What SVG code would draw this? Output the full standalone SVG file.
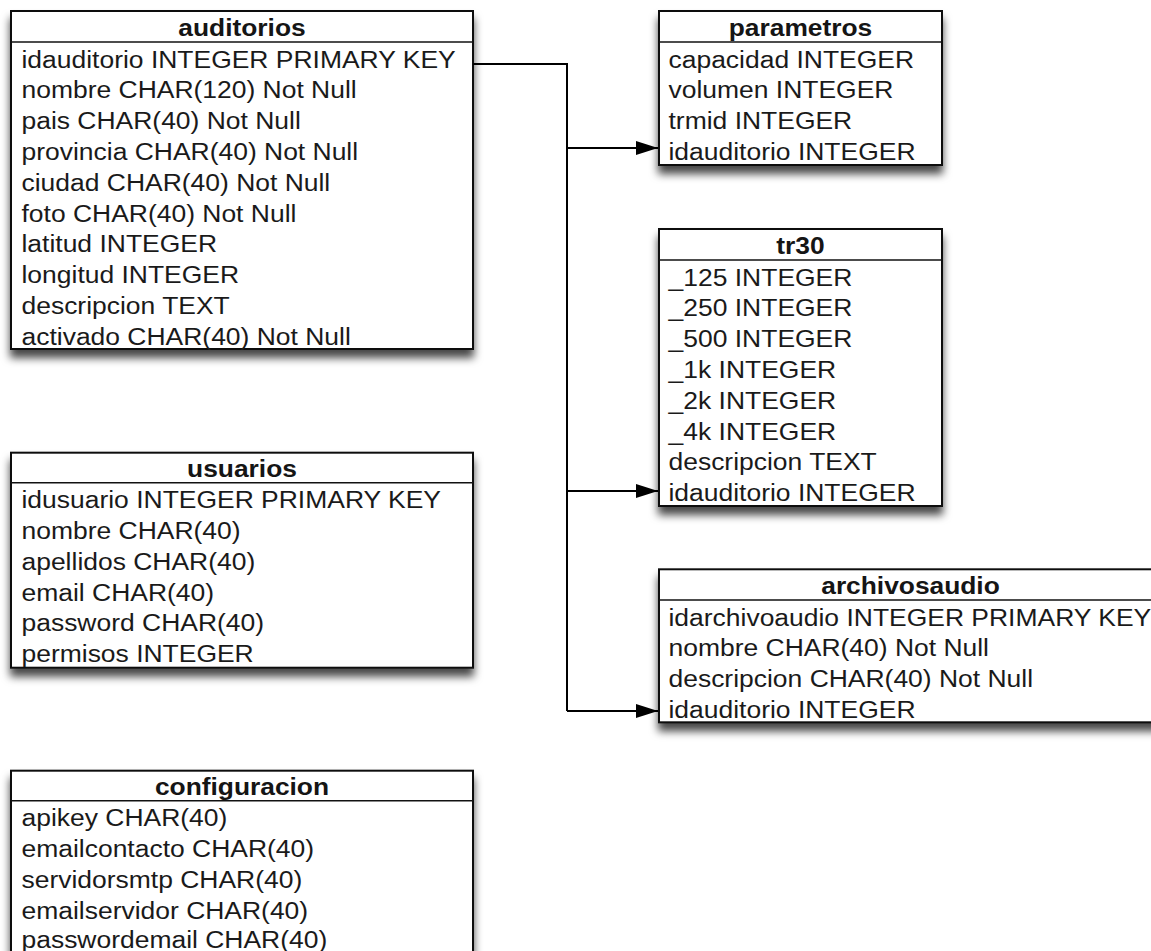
<svg xmlns="http://www.w3.org/2000/svg" width="1151" height="951" viewBox="0 0 1151 951">
  <defs>
    <filter id="shadow" x="-10%" y="-10%" width="120%" height="135%">
      <feDropShadow dx="0" dy="8" stdDeviation="4.5" flood-color="#000" flood-opacity="0.72"/>
    </filter>
    <marker id="arrow" viewBox="0 0 22 14" refX="22" refY="7" markerWidth="22" markerHeight="14" markerUnits="userSpaceOnUse" orient="auto">
      <path d="M0,0 L22,7 L0,14 Z" fill="#000"/>
    </marker>
    <style>
      .box { fill: #fff; stroke: #111; stroke-width: 2; }
      .sep { stroke: #111; stroke-width: 1.6; }
      .title { font-family: "Liberation Sans", Arial, sans-serif; font-size: 24.4px; font-weight: bold; fill: #151515; text-anchor: middle;
               transform-box: fill-box; transform-origin: center; transform: scaleX(1.08); }
      .row { font-family: "Liberation Sans", Arial, sans-serif; font-size: 24.4px; fill: #1a1a1a;
             transform-box: fill-box; transform-origin: left center; transform: scaleX(1.085); }
      .link { fill: none; stroke: #000; stroke-width: 2; }
    </style>
  </defs>
  <rect width="1151" height="951" fill="#fff"/>

  <!-- auditorios -->
  <g id="auditorios">
    <rect class="box" x="11" y="11" width="462" height="338" filter="url(#shadow)"/>
    <line class="sep" x1="11" y1="42" x2="473" y2="42"/>
    <text class="title" x="242" y="36">auditorios</text>
    <text class="row" x="21.5" y="67.7">idauditorio INTEGER PRIMARY KEY</text>
    <text class="row" x="21.5" y="98.5">nombre CHAR(120) Not Null</text>
    <text class="row" x="21.5" y="129.3">pais CHAR(40) Not Null</text>
    <text class="row" x="21.5" y="160.1">provincia CHAR(40) Not Null</text>
    <text class="row" x="21.5" y="190.9">ciudad CHAR(40) Not Null</text>
    <text class="row" x="21.5" y="221.7">foto CHAR(40) Not Null</text>
    <text class="row" x="21.5" y="252.5">latitud INTEGER</text>
    <text class="row" x="21.5" y="283.3">longitud INTEGER</text>
    <text class="row" x="21.5" y="314.1">descripcion TEXT</text>
    <text class="row" x="21.5" y="344.9">activado CHAR(40) Not Null</text>
  </g>

  <!-- usuarios -->
  <g id="usuarios">
    <rect class="box" x="11" y="452.7" width="462" height="215" filter="url(#shadow)"/>
    <line class="sep" x1="11" y1="482.7" x2="473" y2="482.7"/>
    <text class="title" x="242" y="477.5">usuarios</text>
    <text class="row" x="21.5" y="508.3">idusuario INTEGER PRIMARY KEY</text>
    <text class="row" x="21.5" y="539.1">nombre CHAR(40)</text>
    <text class="row" x="21.5" y="569.9">apellidos CHAR(40)</text>
    <text class="row" x="21.5" y="600.7">email CHAR(40)</text>
    <text class="row" x="21.5" y="631.5">password CHAR(40)</text>
    <text class="row" x="21.5" y="662.3">permisos INTEGER</text>
  </g>

  <!-- configuracion -->
  <g id="configuracion">
    <rect class="box" x="11" y="770.7" width="462" height="200" filter="url(#shadow)"/>
    <line class="sep" x1="11" y1="800.7" x2="473" y2="800.7"/>
    <text class="title" x="242" y="795.5">configuracion</text>
    <text class="row" x="21.5" y="826.3">apikey CHAR(40)</text>
    <text class="row" x="21.5" y="857.1">emailcontacto CHAR(40)</text>
    <text class="row" x="21.5" y="887.9">servidorsmtp CHAR(40)</text>
    <text class="row" x="21.5" y="918.7">emailservidor CHAR(40)</text>
    <text class="row" x="21.5" y="948.5">passwordemail CHAR(40)</text>
  </g>

  <!-- parametros -->
  <g id="parametros">
    <rect class="box" x="659" y="11" width="283" height="154" filter="url(#shadow)"/>
    <line class="sep" x1="659" y1="42" x2="942" y2="42"/>
    <text class="title" x="800.5" y="36">parametros</text>
    <text class="row" x="668.5" y="67.7">capacidad INTEGER</text>
    <text class="row" x="668.5" y="98.5">volumen INTEGER</text>
    <text class="row" x="668.5" y="129.3">trmid INTEGER</text>
    <text class="row" x="668.5" y="160.1">idauditorio INTEGER</text>
  </g>

  <!-- tr30 -->
  <g id="tr30">
    <rect class="box" x="659" y="229" width="283" height="277" filter="url(#shadow)"/>
    <line class="sep" x1="659" y1="260" x2="942" y2="260"/>
    <text class="title" x="800.5" y="254">tr30</text>
    <text class="row" x="668.5" y="285.7">_125 INTEGER</text>
    <text class="row" x="668.5" y="316.5">_250 INTEGER</text>
    <text class="row" x="668.5" y="347.3">_500 INTEGER</text>
    <text class="row" x="668.5" y="378.1">_1k INTEGER</text>
    <text class="row" x="668.5" y="408.9">_2k INTEGER</text>
    <text class="row" x="668.5" y="439.7">_4k INTEGER</text>
    <text class="row" x="668.5" y="470.5">descripcion TEXT</text>
    <text class="row" x="668.5" y="501.3">idauditorio INTEGER</text>
  </g>

  <!-- archivosaudio -->
  <g id="archivosaudio">
    <rect class="box" x="659" y="569.3" width="503" height="153" filter="url(#shadow)"/>
    <line class="sep" x1="659" y1="600" x2="1162" y2="600"/>
    <text class="title" x="910.5" y="594.5">archivosaudio</text>
    <text class="row" x="668.5" y="625.7">idarchivoaudio INTEGER PRIMARY KEY</text>
    <text class="row" x="668.5" y="656.5">nombre CHAR(40) Not Null</text>
    <text class="row" x="668.5" y="687.3">descripcion CHAR(40) Not Null</text>
    <text class="row" x="668.5" y="718.1">idauditorio INTEGER</text>
  </g>

  <!-- foreign keys: idauditorio -->
  <g id="connectors">
    <path class="link" d="M473,64 H567 V711"/>
    <path class="link" d="M567,148 H658" marker-end="url(#arrow)"/>
    <path class="link" d="M567,491 H658" marker-end="url(#arrow)"/>
    <path class="link" d="M567,711 H658" marker-end="url(#arrow)"/>
  </g>
</svg>
